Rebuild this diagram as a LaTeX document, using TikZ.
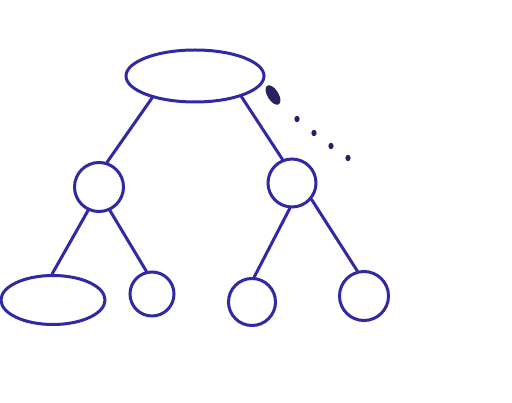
\documentclass[tikz,border=0pt]{standalone}
\usetikzlibrary{shapes.geometric}
\definecolor{ink}{RGB}{48,40,165}
\definecolor{blot}{RGB}{40,32,95}
\begin{document}
\begin{tikzpicture}[x=1pt,y=-1pt,
  pen/.style={draw=ink,line width=3pt},
  oval/.style={pen,ellipse,inner sep=0pt},
  ball/.style={pen,circle,inner sep=0pt},
  edge/.style={ink,line width=3pt,line cap=round}]
\useasboundingbox[fill=white] (0,0) rectangle (512,403);

% tree nodes
\node[oval,minimum width=138pt,minimum height=52pt] (root) at (195,76) {};
\node[ball,minimum size=49pt] (l) at (99,187) {};
\node[ball,minimum size=48pt] (r) at (292,183) {};
\node[oval,minimum width=104pt,minimum height=49pt] (ll) at (53,300) {};
\node[ball,minimum size=44pt] (lr) at (152,294) {};
\node[ball,minimum size=47pt] (rl) at (252,302) {};
\node[ball,minimum size=49pt] (rr) at (364,296) {};

% branches
\draw[edge] (root.207) -- (l.72);
\draw[edge] (root.336) -- (r.112);
\draw[edge] (l.245) -- (ll.92);
\draw[edge] (l.295) -- (lr.104);
\draw[edge] (r.265) -- (rl.85);
\draw[edge] (r.320) -- (rr.105);

% ink blot and trailing dots
\fill[blot,rotate around={-58:(273,95)}] (273,95) ellipse (11pt and 5.5pt);
\foreach \p in {(297,119),(314,133),(331,146),(348,158)}
  \fill[blot] \p ellipse (2.6pt and 3.2pt);
\end{tikzpicture}
\end{document}
